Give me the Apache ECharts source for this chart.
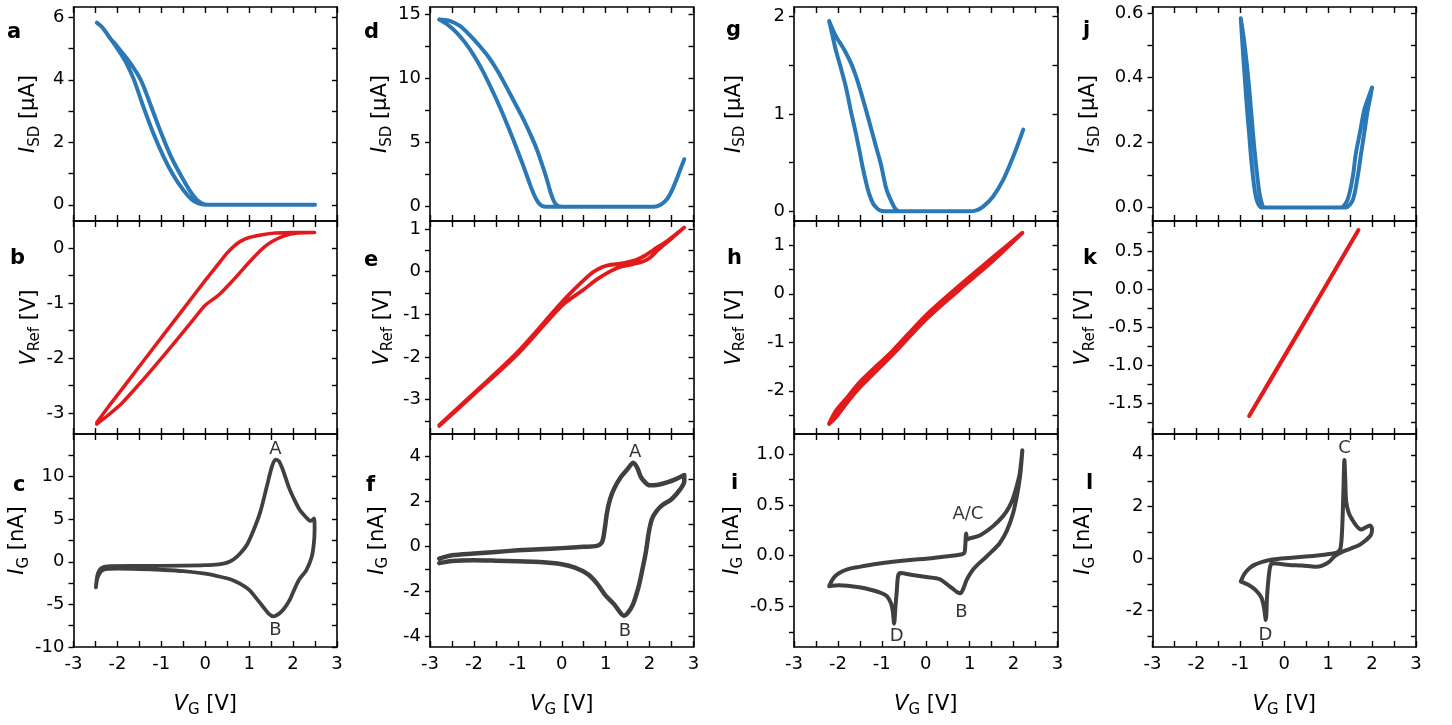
<!DOCTYPE html>
<html><head><meta charset="utf-8">
<script src="https://cdn.jsdelivr.net/npm/echarts@6/dist/echarts.min.js"></script>
<style>html,body{margin:0;padding:0;background:#fff}#c{width:1452px;height:725px}</style>
</head><body><div id="c"></div><script>
// ---------- DATA ----------
const xTickVals = [-3,-2.5,-2,-1.5,-1,-0.5,0,0.5,1,1.5,2,2.5,3];
const xLabelVals = [-3,-2,-1,0,1,2,3];

// a: I_SD [uA]
const vgA = [-2.47,-2.36,-2.25,-2.15,-2.05,-1.92,-1.79,-1.62,-1.41,-1.18,-0.95,-0.73,-0.5,-0.31,-0.15,0.0,0.5,1.0,1.5,2.0,2.5,
             2.0,1.0,0.5,0.05,-0.07,-0.2,-0.36,-0.56,-0.78,-1.0,-1.23,-1.47,-1.74,-1.9,-2.02,-2.15,-2.25,-2.36,-2.47];
const isdA = [5.83,5.7,5.5,5.3,5.1,4.83,4.52,3.99,3.14,2.28,1.54,0.95,0.47,0.17,0.04,0,0,0,0,0,0,
              0,0,0,0,0.04,0.17,0.47,0.95,1.54,2.28,3.14,4.0,4.6,4.88,5.1,5.3,5.5,5.7,5.83];
// b: V_Ref [V]
const vgB = [-2.47,-2.2,-1.9,-1.5,-1.0,-0.5,0.0,0.3,0.5,0.65,0.8,1.0,1.3,1.6,2.0,2.49,
             2.1,1.8,1.55,1.35,1.2,1.0,0.64,0.3,0.0,-0.3,-0.7,-1.1,-1.5,-1.9,-2.2,-2.47];
const vrefB = [-3.17,-2.88,-2.57,-2.15,-1.63,-1.11,-0.59,-0.29,-0.09,0.03,0.12,0.19,0.24,0.27,0.28,0.28,
               0.27,0.22,0.13,0.02,-0.09,-0.26,-0.58,-0.86,-1.04,-1.33,-1.72,-2.1,-2.47,-2.82,-3.03,-3.2];
// c: I_G [nA]
const vgC = [-2.49,-2.47,-2.44,-2.38,-2.3,-2.15,-1.5,-0.5,0.0,0.3,0.5,0.65,0.8,0.95,1.1,1.25,1.4,1.52,1.6,1.68,1.78,1.9,2.0,2.15,2.3,2.4,2.48,
             2.49,2.47,2.42,2.3,2.15,2.05,1.92,1.78,1.65,1.55,1.45,1.32,1.15,1.0,0.8,0.6,0.3,0.0,-0.5,-1.0,-1.5,-2.0,-2.2,-2.32,-2.4,-2.46,-2.49];
const igC = [-3.0,-2.0,-1.3,-0.8,-0.6,-0.5,-0.48,-0.45,-0.4,-0.3,-0.1,0.3,1.0,2.0,3.7,5.8,8.8,11.2,12.0,11.8,10.6,8.8,7.6,6.1,5.2,4.8,5.1,
             3.8,2.0,0.5,-1.0,-2.0,-3.0,-4.5,-5.6,-6.2,-6.4,-6.1,-5.3,-4.2,-3.3,-2.6,-2.1,-1.7,-1.4,-1.1,-0.95,-0.85,-0.8,-0.82,-0.95,-1.3,-2.0,-3.0];
const notesC = [[1.6,13.2,'A'],[1.6,-8.0,'B']];
// d: I_SD [uA]
const vgD = [-2.79,-2.6,-2.4,-2.2,-2.0,-1.8,-1.6,-1.4,-1.2,-1.0,-0.85,-0.72,-0.62,-0.53,-0.45,-0.35,0.5,1.5,2.1,2.25,2.39,2.5,2.6,2.7,2.79,
             2.7,2.6,2.5,2.39,2.25,2.1,1.0,0.02,-0.08,-0.16,-0.24,-0.32,-0.42,-0.57,-0.72,-0.9,-1.1,-1.3,-1.48,-1.67,-1.86,-2.1,-2.32,-2.55,-2.79];
const isdD = [14.6,14.2,13.6,12.8,11.8,10.6,9.2,7.7,6.05,4.3,2.95,1.7,0.85,0.3,0.06,0,0,0,0,0.15,0.55,1.2,2.0,2.9,3.7,
              2.9,2.0,1.2,0.55,0.15,0,0,0,0.04,0.3,0.95,1.9,3.0,4.5,5.7,7.0,8.3,9.6,10.7,11.7,12.5,13.4,14.1,14.5,14.6];
// e: V_Ref [V]
const vgE = [-2.79,-2.0,-1.0,0.0,0.4,0.7,0.9,1.05,1.4,1.7,1.9,2.1,2.4,2.79,
             2.5,2.2,2.0,1.85,1.6,1.3,1.05,0.8,0.5,0.0,-1.0,-2.0,-2.79];
const vrefE = [-3.6,-2.85,-1.88,-0.72,-0.3,-0.02,0.1,0.15,0.2,0.28,0.38,0.52,0.72,1.04,
               0.78,0.52,0.32,0.24,0.17,0.1,-0.02,-0.18,-0.42,-0.8,-1.93,-2.88,-3.62];
// f: I_G [nA]
const vgF = [-2.79,-2.5,-2.0,-1.5,-1.0,-0.5,0.0,0.5,0.8,0.92,0.98,1.03,1.1,1.2,1.35,1.5,1.63,1.72,1.8,1.9,2.0,2.2,2.4,2.6,2.79,
             2.79,2.7,2.5,2.3,2.15,2.05,1.98,1.92,1.85,1.75,1.62,1.5,1.42,1.33,1.2,1.0,0.8,0.6,0.3,0.0,-0.5,-1.0,-1.5,-2.0,-2.5,-2.79];
const igF = [-0.55,-0.4,-0.32,-0.25,-0.18,-0.13,-0.08,-0.02,0.02,0.2,0.8,1.5,2.1,2.6,3.1,3.45,3.73,3.5,3.1,2.85,2.72,2.75,2.85,3.0,3.18,
             2.9,2.55,2.1,1.85,1.55,1.2,0.6,-0.2,-0.9,-1.8,-2.6,-2.98,-3.1,-2.95,-2.6,-2.2,-1.65,-1.25,-0.95,-0.8,-0.7,-0.67,-0.64,-0.62,-0.65,-0.75];
const notesF = [[1.67,4.2,'A'],[1.44,-3.8,'B']];
// g: I_SD [uA]
const vgG = [-2.2,-2.12,-2.05,-1.95,-1.82,-1.7,-1.59,-1.5,-1.44,-1.35,-1.29,-1.2,-1.13,-1.05,-0.95,0,1.0,1.15,1.3,1.53,1.76,1.99,2.22,
             1.99,1.76,1.53,1.3,1.15,1.0,0,-0.6,-0.7,-0.78,-0.85,-0.91,-1.02,-1.13,-1.25,-1.36,-1.48,-1.59,-1.7,-1.82,-1.92,-2.01,-2.1,-2.2];
const isdG = [1.955,1.8,1.66,1.5,1.28,1.02,0.8,0.6,0.46,0.28,0.18,0.08,0.04,0.01,0,0,0,0.01,0.045,0.15,0.32,0.56,0.84,
              0.56,0.32,0.15,0.045,0.01,0,0,0,0.03,0.1,0.17,0.25,0.48,0.66,0.86,1.04,1.23,1.39,1.52,1.63,1.71,1.77,1.85,1.955];
// h: V_Ref [V]
const vgH = [-2.2,-2.05,-1.8,-1.5,-0.75,0.0,0.77,1.53,2.2,1.53,0.77,0.0,-0.75,-1.5,-1.8,-2.05,-2.2];
const vrefH = [-2.68,-2.42,-2.15,-1.82,-1.17,-0.45,0.17,0.75,1.255,0.68,0.09,-0.53,-1.25,-1.93,-2.25,-2.55,-2.68];
// i: I_G [nA]
const vgI = [-2.2,-2.1,-1.97,-1.75,-1.51,-1.1,-0.75,-0.3,0.01,0.4,0.77,0.88,0.9,0.92,0.95,1.0,1.23,1.53,1.76,1.9,1.99,2.08,2.14,2.2,
             2.17,2.14,2.08,1.99,1.85,1.68,1.5,1.38,1.2,1.07,0.98,0.92,0.86,0.79,0.72,0.6,0.45,0.31,0.01,-0.3,-0.58,-0.63,-0.66,-0.69,-0.72,-0.75,-0.79,-0.88,-1.0,-1.21,-1.51,-1.97,-2.2];
const igI = [-0.3,-0.22,-0.17,-0.13,-0.11,-0.08,-0.06,-0.04,-0.03,-0.01,0.01,0.03,0.1,0.22,0.16,0.17,0.2,0.29,0.39,0.48,0.57,0.7,0.81,1.04,
             0.88,0.76,0.6,0.42,0.25,0.12,0.04,-0.01,-0.08,-0.14,-0.2,-0.25,-0.32,-0.37,-0.36,-0.32,-0.27,-0.23,-0.21,-0.19,-0.17,-0.2,-0.35,-0.5,-0.67,-0.55,-0.47,-0.4,-0.37,-0.34,-0.31,-0.29,-0.3];
const notesI = [[0.96,0.41,'A/C'],[0.81,-0.56,'B'],[-0.66,-0.79,'D']];
// j: I_SD [uA]
const vgJ = [-0.99,-0.94,-0.89,-0.845,-0.8,-0.76,-0.72,-0.68,-0.64,-0.59,-0.53,0,1.0,1.4,1.56,1.67,1.75,1.82,1.9,1.96,2.0,
             1.92,1.82,1.72,1.63,1.56,1.44,1.29,1.0,0,-0.46,-0.51,-0.56,-0.6,-0.65,-0.7,-0.75,-0.8,-0.86,-0.92,-0.99];
const isdJ = [0.583,0.48,0.382,0.3,0.228,0.16,0.105,0.06,0.03,0.01,0,0,0,0,0.023,0.094,0.166,0.228,0.3,0.34,0.37,
              0.34,0.3,0.228,0.166,0.094,0.023,0,0,0,0,0.012,0.04,0.08,0.14,0.21,0.29,0.37,0.45,0.52,0.583];
// k: V_Ref [V]
const vgK = [-0.8,0.0,0.9,1.69,0.9,0.0,-0.8];
const vrefK = [-1.667,-0.88,0.005,0.786,0.0,-0.885,-1.667];
// l: I_G [nA]
const vgL = [-0.99,-0.93,-0.87,-0.78,-0.68,-0.5,-0.27,0.1,0.49,0.8,1.02,1.2,1.28,1.32,1.35,1.37,1.39,1.41,1.47,1.55,1.65,1.75,1.85,1.95,2.0,
             1.97,1.85,1.71,1.5,1.33,1.15,1.02,0.85,0.72,0.4,0.11,-0.27,-0.32,-0.36,-0.39,-0.42,-0.46,-0.52,-0.65,-0.8,-0.99];
const igL = [-0.88,-0.65,-0.5,-0.35,-0.24,-0.12,-0.03,0.03,0.08,0.13,0.18,0.24,0.4,1.2,2.8,3.8,3.0,2.2,1.75,1.5,1.25,1.12,1.2,1.28,1.15,
             0.9,0.7,0.53,0.38,0.27,0.1,-0.12,-0.28,-0.31,-0.26,-0.24,-0.18,-0.3,-0.8,-1.4,-2.36,-1.9,-1.5,-1.21,-1.02,-0.88];
const notesL = [[1.37,4.25,'C'],[-0.43,-2.94,'D']];

// y tick values / tick labels
const ticksA=[0,1,2,3,4,5,6], labelsA=[0,2,4,6];
const ticksB=[-3,-2.5,-2,-1.5,-1,-0.5,0], labelsB=[-3,-2,-1,0];
const ticksC=[-10,-7.5,-5,-2.5,0,2.5,5,7.5,10,12.5], labelsC=[-10,-5,0,5,10];
const ticksD=[0,2.5,5,7.5,10,12.5,15], labelsD=[0,5,10,15];
const ticksE=[-3.5,-3,-2.5,-2,-1.5,-1,-0.5,0,0.5,1], labelsE=[-3,-2,-1,0,1];
const ticksF=[-4,-3,-2,-1,0,1,2,3,4], labelsF=[-4,-2,0,2,4];
const ticksG=[0,0.5,1,1.5,2], labelsG=[0,1,2];
const ticksH=[-2.5,-2,-1.5,-1,-0.5,0,0.5,1], labelsH=[-2,-1,0,1];
const ticksI=[-0.75,-0.5,-0.25,0,0.25,0.5,0.75,1], labelsI=[-0.5,0,0.5,1];
const ticksJ=[0,0.1,0.2,0.3,0.4,0.5,0.6], labelsJ=[0,0.2,0.4,0.6];
const ticksK=[-1.75,-1.5,-1.25,-1,-0.75,-0.5,-0.25,0,0.25,0.5,0.75], labelsK=[-1.5,-1,-0.5,0,0.5];
const ticksL=[-3,-2,-1,0,1,2,3,4], labelsL=[-2,0,2,4];

// ---------- LAYOUT / STYLE ----------
const FONT = '"DejaVu Sans", Verdana, sans-serif';
const BLUE = '#2a78b6', RED = '#e31a1c', GREY = '#404040';
const colLeft = [73.5, 430, 794, 1152.5];
const W = 263.5;
const rowTop = [7, 221, 434];
const rowH = [214, 213, 213];
const NAME_ISD = '{it|I}{sub|SD}{n| [µA]}';
const NAME_VREF = '{it|V}{sub|Ref}{n| [V]}';
const NAME_IG = '{it|I}{sub|G}{n| [nA]}';

const panels = [
  {L:'a',col:0,row:0,x:vgA,y:isdA,c:BLUE,w:4,min:-0.52,max:6.33,t:ticksA,l:labelsA,d:0,name:NAME_ISD,gap:31,lx:7,ly:22},
  {L:'b',col:0,row:1,x:vgB,y:vrefB,c:RED,w:3.5,min:-3.38,max:0.49,t:ticksB,l:labelsB,d:0,name:NAME_VREF,gap:30,lx:10,ly:248},
  {L:'c',col:0,row:2,x:vgC,y:igC,c:GREY,w:3.8,min:-10,max:15,t:ticksC,l:labelsC,d:0,name:NAME_IG,gap:36,lx:13,ly:475,notes:notesC},
  {L:'d',col:1,row:0,x:vgD,y:isdD,c:BLUE,w:4,min:-1.12,max:15.58,t:ticksD,l:labelsD,d:0,name:NAME_ISD,gap:34,lx:364,ly:22},
  {L:'e',col:1,row:1,x:vgE,y:vrefE,c:RED,w:3.8,min:-3.81,max:1.19,t:ticksE,l:labelsE,d:0,name:NAME_VREF,gap:34,lx:364,ly:250},
  {L:'f',col:1,row:2,x:vgF,y:igF,c:GREY,w:4.5,min:-4.49,max:5.01,t:ticksF,l:labelsF,d:0,name:NAME_IG,gap:39,lx:366,ly:475,notes:notesF},
  {L:'g',col:2,row:0,x:vgG,y:isdG,c:BLUE,w:4,min:-0.10,max:2.10,t:ticksG,l:labelsG,d:0,name:NAME_ISD,gap:46,lx:726,ly:20},
  {L:'h',col:2,row:1,x:vgH,y:vrefH,c:RED,w:4,min:-2.89,max:1.50,t:ticksH,l:labelsH,d:0,name:NAME_VREF,gap:46,lx:727,ly:248},
  {L:'i',col:2,row:2,x:vgI,y:igI,c:GREY,w:4,min:-0.90,max:1.20,t:ticksI,l:labelsI,d:1,name:NAME_IG,gap:45,lx:731,ly:473,notes:notesI},
  {L:'j',col:3,row:0,x:vgJ,y:isdJ,c:BLUE,w:4,min:-0.042,max:0.618,t:ticksJ,l:labelsJ,d:1,name:NAME_ISD,gap:50,lx:1083,ly:20},
  {L:'k',col:3,row:1,x:vgK,y:vrefK,c:RED,w:4,min:-1.905,max:0.905,t:ticksK,l:labelsK,d:1,name:NAME_VREF,gap:55,lx:1083,ly:248},
  {L:'l',col:3,row:2,x:vgL,y:igL,c:GREY,w:4,min:-3.40,max:4.80,t:ticksL,l:labelsL,d:0,name:NAME_IG,gap:55,lx:1086,ly:473,notes:notesL}
];

const axisLine = {show:true, onZero:false, lineStyle:{color:'#000', width:1.6}};
const tickStyle = {color:'#000', width:1.4};
const rich = {
  it:{fontFamily:FONT, fontSize:21, fontStyle:'italic', color:'#000', lineHeight:27},
  sub:{fontFamily:FONT, fontSize:15, color:'#000', verticalAlign:'bottom', lineHeight:15},
  n:{fontFamily:FONT, fontSize:21, color:'#000', lineHeight:27}
};

const grid=[], xAxis=[], yAxis=[], series=[], graphic=[];
panels.forEach((p, i) => {
  grid.push({left:colLeft[p.col], top:rowTop[p.row], width:W, height:rowH[p.row]});
  const bottomRow = p.row === 2;
  xAxis.push({
    gridIndex:i, type:'value', position:'bottom', min:-3, max:3,
    axisLine, splitLine:{show:false},
    axisTick:{show:true, inside:true, length:6, customValues:xTickVals, lineStyle:tickStyle},
    axisLabel:{show:bottomRow, customValues:xLabelVals, margin:8, color:'#000', fontSize:18, fontFamily:FONT,
               formatter:v=>String(v)},
    name: bottomRow ? '{it|V}{sub|G}{n| [V]}' : '', nameLocation:'middle', nameGap:44,
    nameTextStyle:{fontFamily:FONT, fontSize:21, color:'#000', rich}
  });
  xAxis.push({
    gridIndex:i, type:'value', position:'top', min:-3, max:3,
    axisLine, splitLine:{show:false},
    axisTick:{show:true, inside:true, length:6, customValues:xTickVals, lineStyle:tickStyle},
    axisLabel:{show:false}
  });
  yAxis.push({
    gridIndex:i, type:'value', position:'left', min:p.min, max:p.max,
    axisLine, splitLine:{show:false},
    axisTick:{show:true, inside:false, length:5, customValues:p.t, lineStyle:tickStyle},
    axisLabel:{show:true, customValues:p.l, margin:9, color:'#000', fontSize:18, fontFamily:FONT,
               formatter:v=>Number(v).toFixed(p.d)},
    name:p.name, nameLocation:'middle', nameGap:p.gap, nameRotate:90,
    nameTextStyle:{fontFamily:FONT, fontSize:21, color:'#000', rich}
  });
  yAxis.push({
    gridIndex:i, type:'value', position:'right', min:p.min, max:p.max,
    axisLine, splitLine:{show:false},
    axisTick:{show:true, inside:true, length:5, customValues:p.t, lineStyle:tickStyle},
    axisLabel:{show:false}
  });
  series.push({
    type:'line', xAxisIndex:2*i, yAxisIndex:2*i,
    data:p.x.map((v,k)=>[v,p.y[k]]),
    showSymbol:false, symbol:'none', smooth:0.3, clip:true,
    lineStyle:{color:p.c, width:p.w, join:'round', cap:'round'},
    silent:true, animation:false
  });
  if (p.notes) {
    series.push({
      type:'scatter', xAxisIndex:2*i, yAxisIndex:2*i, symbolSize:1,
      itemStyle:{color:'rgba(0,0,0,0)'}, silent:true, animation:false,
      data:p.notes.map(n=>({value:[n[0],n[1]], name:n[2]})),
      label:{show:true, position:'inside', formatter:'{b}', color:'#000', fontSize:18, fontFamily:FONT}
    });
  }
  graphic.push({type:'text', x:p.lx, y:p.ly, silent:true,
    style:{text:p.L, font:'bold 21px ' + FONT, fill:'#000', textBaseline:'alphabetic', textAlign:'left'}});
});

const chart = echarts.init(document.getElementById('c'), null, {renderer:'canvas'});
chart.setOption({backgroundColor:'#fff', animation:false, grid, xAxis, yAxis, series, graphic});
</script></body></html>
